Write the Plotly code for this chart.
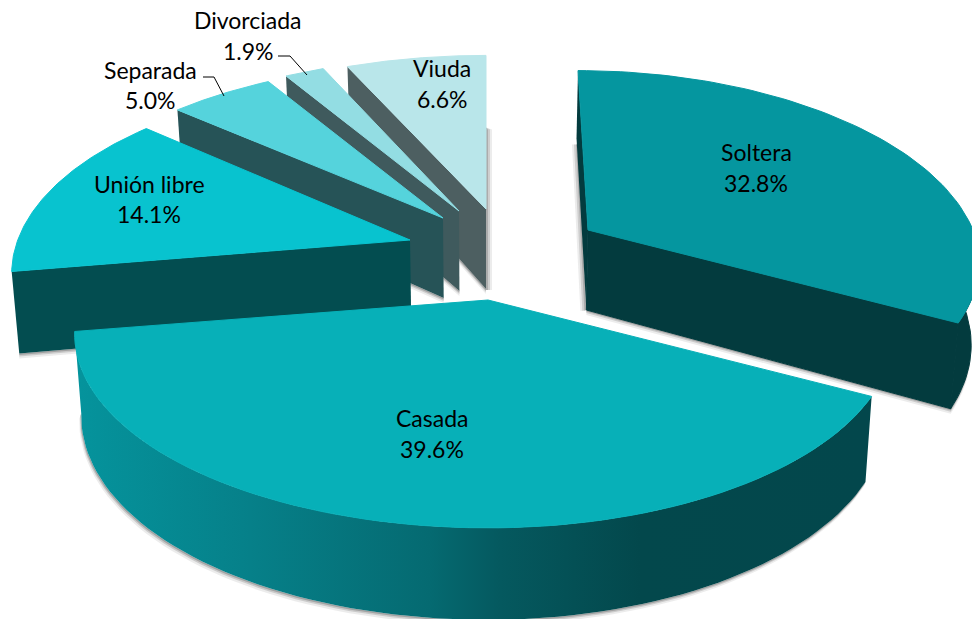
import math
import plotly.graph_objects as go

# ---- data ----
categories = ["Soltera", "Casada", "Unión libre", "Separada", "Divorciada", "Viuda"]
values = [32.8, 39.6, 14.1, 5.0, 1.9, 6.6]

# ---- styles ----
top_colors = ["#05969F", "#07B0B8", "#08C3CF", "#55D3DC", "#93DDE3", "#B9E6EA"]
wall_colors = ["#033B3E", "#03474C", "#034D50", "#265357", "#3F5A5D", "#4D5F61"]
apex = [(588, 230), (488, 300), (410, 240), (443, 218), (459, 211), (486, 209)]
xs_left = [1.0, 1.02, 0.983, 0.99, 0.98, 1.0]
xs_right = [0.965, 1.0, 1.0, 1.0, 1.0, 1.0]
ys = [0.965, 1.0, 1.0, 0.97, 0.96, 0.96]
lean = [(10, 5), (0, 0), (0, 0), (0, 0), (0, 0), (0, 0)]
A, B, K = 399, 188, 0.175
DEPTH, VX, SHR = 80, 486, 0.984
label_pos = [(756, 152, 183), (432, 418, 449), (149, 184, 214),
             (150, 70, 100), (248, 20, 51), (442, 68, 99)]
leaders = {"Separada": ([203, 214, 224], [77, 77, 96]),
           "Divorciada": ([278, 290, 307], [56, 56, 75])}
grad_stops = [(80, "#05939C"), (250, "#068089"), (430, "#056A71"),
              (500, "#05595F"), (640, "#03484C"), (866, "#03474C")]


def top(i, th):
    u, v = math.sin(th), -math.cos(th)
    f = 1 / (1 - K * v)
    sx = xs_left[i] if u < 0 else xs_right[i]
    x = apex[i][0] + A * u * f * sx
    y = apex[i][1] + B * v * f * ys[i]
    if v < 0:
        x += lean[i][0] * v
        y += lean[i][1] * v
    return x, y, v


def low(x, y, v):
    return VX + (x - VX) * SHR, y + DEPTH * (1 + 0.15 * v)


def low_apex(i):
    return low(apex[i][0], apex[i][1], 0)


def poly(fig, pts, color, seam=False, gradient=None):
    xs = [p[0] for p in pts] + [pts[0][0]]
    yy = [p[1] for p in pts] + [pts[0][1]]
    kw = dict(fillgradient=gradient) if gradient else dict(fillcolor=color)
    fig.add_trace(go.Scatter(x=xs, y=yy, mode="lines", fill="toself",
                             line=dict(color=color, width=1 if seam else 0),
                             hoverinfo="skip", showlegend=False, **kw))


total = sum(values)
edges = [0.0]
for val in values:
    edges.append(edges[-1] + val / total * 2 * math.pi)

fig = go.Figure()
N = 80


def arc(i, n=N):
    t0, t1 = edges[i], edges[i + 1]
    return [t0 + (t1 - t0) * j / n for j in range(n + 1)]


def soft_under(line_pts, dx=0.0):
    for off, alpha in [(5, 0.10), (3, 0.2), (1.5, 0.3)]:
        pts = [(x + dx * off, y + off) for x, y in line_pts] + list(reversed(line_pts))
        poly(fig, pts, "rgba(70,70,70,%s)" % alpha)


def shadow_strip(pts):
    for off, alpha in [(6, 0.10), (4, 0.18), (2, 0.25)]:
        poly(fig, pts(off), "rgba(70,70,70,%s)" % alpha)


def flat_slice(i):
    ths = arc(i)
    c = top(i, ths[0])
    q = low(*c)
    la = low_apex(i)
    soft_under([q, la])
    poly(fig, [apex[i], c[:2], q, la], wall_colors[i])
    poly(fig, [apex[i]] + [top(i, t)[:2] for t in ths], top_colors[i], seam=True)


# soft shadows beside the exploded slices
vi, so = 5, 0
v_end = top(vi, edges[vi + 1])
v_low = low_apex(vi)
shadow_strip(lambda o: [(v_end[0], v_end[1] + 72), (v_end[0] + o, v_end[1] + 74),
                        (v_low[0] + o, v_low[1] + 1), (v_low[0], v_low[1] + 1)])
s_start = top(so, edges[so])
s_low = low_apex(so)
shadow_strip(lambda o: [(s_start[0], s_start[1] + 74), (s_start[0] - o, s_start[1] + 74),
                        (s_low[0] - o, s_low[1] + 1), (s_low[0], s_low[1])])

# Soltera at the back
s_end = top(so, edges[so + 1])
q_end = low(*s_end)
ths_s = arc(so)
ths_tail = [t for t in ths_s if t > math.pi / 2]
soft_under([low(*top(so, t)) for t in ths_tail] + [s_low])
poly(fig, [apex[so], s_start[:2], low(*s_start), s_low], wall_colors[so])
poly(fig, [apex[so], s_end[:2], q_end, s_low], wall_colors[so], seam=True)
poly(fig, [top(so, t)[:2] for t in ths_tail] + [low(*top(so, t)) for t in reversed(ths_tail)],
     wall_colors[so], seam=True)
poly(fig, [apex[so]] + [top(so, t)[:2] for t in ths_s], top_colors[so], seam=True)

for i in [5, 4, 3, 2]:
    flat_slice(i)

# Casada: front wall with a horizontal gradient, then its top
ca = 1
ths_c = arc(ca)
tops_c = [top(ca, t)[:2] for t in ths_c]
lows_c = [low(*top(ca, t)) for t in ths_c]
soft_under(lows_c, dx=-0.4)
xmin = min(p[0] for p in tops_c + lows_c)
xmax = max(p[0] for p in tops_c + lows_c)
scale_c = [[max(0.0, min(1.0, (x - xmin) / (xmax - xmin))), c] for x, c in grad_stops]
scale_c = [[0.0, grad_stops[0][1]]] + scale_c + [[1.0, grad_stops[-1][1]]]
poly(fig, tops_c + list(reversed(lows_c)), "rgba(0,0,0,0)",
     gradient=dict(type="horizontal", colorscale=scale_c))
poly(fig, [apex[ca]] + tops_c, top_colors[ca], seam=True)

annotations = []
for name, val, (x, y1, y2) in zip(categories, values, label_pos):
    for txt, y in ((name, y1), (f"{val:.1f}%", y2)):
        annotations.append(dict(x=x, y=y, text=txt, showarrow=False, xref="x", yref="y",
                                xanchor="center", yanchor="middle",
                                font=dict(family="Lato", size=23, color="#000000")))
for xs_l, ys_l in leaders.values():
    fig.add_trace(go.Scatter(x=xs_l, y=ys_l, mode="lines", line=dict(color="#000000", width=1),
                             hoverinfo="skip", showlegend=False))

fig.update_layout(width=972, height=619, margin=dict(l=0, r=0, t=0, b=0),
                  paper_bgcolor="#FFFFFF", plot_bgcolor="#FFFFFF", showlegend=False,
                  xaxis=dict(range=[0, 972], visible=False, fixedrange=True),
                  yaxis=dict(range=[619, 0], visible=False, fixedrange=True),
                  annotations=annotations)
fig.write_html("out.html", config=dict(displayModeBar=False),
               post_script="document.body.style.margin='0';")
